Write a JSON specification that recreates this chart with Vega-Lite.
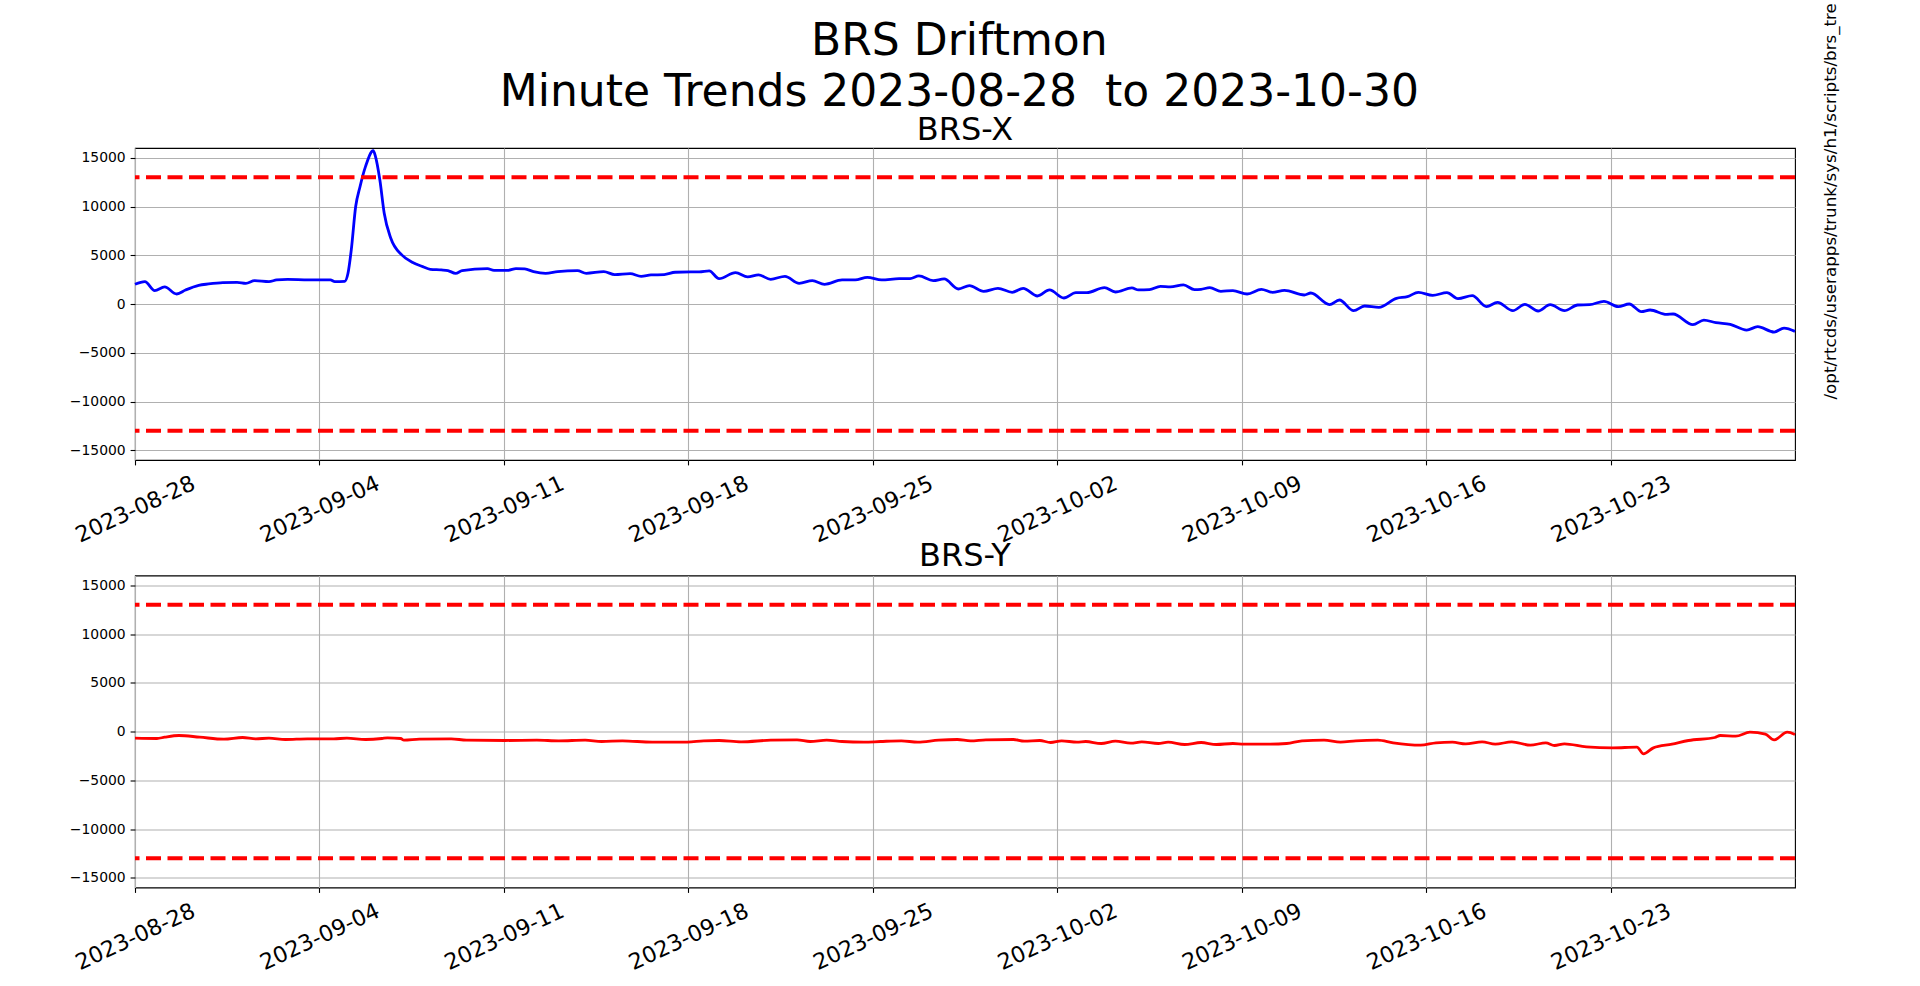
{
  "$schema": "https://vega.github.io/schema/vega-lite/v6.json",
  "background": "white",
  "autosize": {"type": "pad"},
  "padding": {"left": 68, "top": 2, "right": 5, "bottom": 5},
  "config": {
    "font": "DejaVu Sans",
    "view": {"stroke": "black", "strokeWidth": 1.1},
    "axis": {"gridColor": "#b0b0b0", "gridWidth": 1.1, "gridOpacity": 1, "tickColor": "black", "tickWidth": 1.1, "tickSize": 4.9, "labelColor": "black", "labelFont": "DejaVu Sans", "domain": false, "titleFont": "DejaVu Sans", "titleFontWeight": "normal", "titleColor": "black"},
    "title": {"font": "DejaVu Sans", "fontWeight": "normal", "color": "black"}
  },
  "title": {"text": ["BRS Driftmon", "Minute Trends 2023-08-28\u00a0 to 2023-10-30"], "fontSize": 44, "lineHeight": 51, "anchor": "middle", "baseline": "top", "offset": -113, "dx": 5},
  "datasets": {
    "brsx": [
      {"t":"2023-08-28T00:00","v":2020},{"t":"2023-08-28T09:00","v":2295},{"t":"2023-08-28T18:00","v":1370},{"t":"2023-08-29T03:00","v":1747},{"t":"2023-08-29T14:00","v":1027},{"t":"2023-08-29T22:00","v":1438},{"t":"2023-08-30T10:00","v":1918},{"t":"2023-08-30T19:00","v":2055},{"t":"2023-08-31T08:00","v":2192},{"t":"2023-08-31T21:00","v":2226},{"t":"2023-09-01T05:00","v":2123},{"t":"2023-09-01T13:00","v":2397},{"t":"2023-09-02T02:00","v":2295},{"t":"2023-09-02T09:00","v":2466},{"t":"2023-09-02T19:00","v":2534},{"t":"2023-09-03T14:00","v":2466},{"t":"2023-09-04T10:00","v":2466},{"t":"2023-09-04T14:00","v":2295},{"t":"2023-09-04T23:00","v":2329},{"t":"2023-09-05T02:00","v":3151},{"t":"2023-09-05T05:00","v":5549},{"t":"2023-09-05T09:00","v":10000},{"t":"2023-09-05T13:00","v":12056},{"t":"2023-09-05T18:00","v":14111},{"t":"2023-09-06T01:00","v":15720},{"t":"2023-09-06T03:00","v":15138},{"t":"2023-09-06T07:00","v":12741},{"t":"2023-09-06T11:00","v":9316},{"t":"2023-09-06T17:00","v":6747},{"t":"2023-09-07T03:00","v":5035},{"t":"2023-09-07T13:00","v":4247},{"t":"2023-09-07T22:00","v":3836},{"t":"2023-09-08T05:00","v":3562},{"t":"2023-09-08T15:00","v":3494},{"t":"2023-09-08T21:00","v":3425},{"t":"2023-09-09T04:00","v":3151},{"t":"2023-09-09T10:00","v":3425},{"t":"2023-09-10T09:00","v":3631},{"t":"2023-09-10T15:00","v":3459},{"t":"2023-09-11T04:00","v":3459},{"t":"2023-09-11T11:00","v":3631},{"t":"2023-09-11T19:00","v":3596},{"t":"2023-09-12T03:00","v":3322},{"t":"2023-09-12T14:00","v":3151},{"t":"2023-09-13T01:00","v":3322},{"t":"2023-09-13T19:00","v":3425},{"t":"2023-09-14T03:00","v":3151},{"t":"2023-09-14T19:00","v":3322},{"t":"2023-09-15T05:00","v":3014},{"t":"2023-09-15T19:00","v":3117},{"t":"2023-09-16T05:00","v":2843},{"t":"2023-09-16T14:00","v":2980},{"t":"2023-09-17T02:00","v":3014},{"t":"2023-09-17T12:00","v":3254},{"t":"2023-09-18T02:00","v":3288},{"t":"2023-09-18T10:00","v":3288},{"t":"2023-09-18T19:00","v":3391},{"t":"2023-09-19T04:00","v":2603},{"t":"2023-09-19T19:00","v":3220},{"t":"2023-09-20T06:00","v":2774},{"t":"2023-09-20T16:00","v":2980},{"t":"2023-09-21T03:00","v":2535},{"t":"2023-09-21T16:00","v":2843},{"t":"2023-09-22T05:00","v":2124},{"t":"2023-09-22T17:00","v":2398},{"t":"2023-09-23T04:00","v":2021},{"t":"2023-09-23T20:00","v":2466},{"t":"2023-09-24T08:00","v":2466},{"t":"2023-09-24T19:00","v":2740},{"t":"2023-09-25T08:00","v":2466},{"t":"2023-09-26T00:00","v":2603},{"t":"2023-09-26T10:00","v":2603},{"t":"2023-09-26T18:00","v":2877},{"t":"2023-09-27T07:00","v":2398},{"t":"2023-09-27T17:00","v":2569},{"t":"2023-09-28T06:00","v":1541},{"t":"2023-09-28T16:00","v":1884},{"t":"2023-09-29T05:00","v":1302},{"t":"2023-09-29T18:00","v":1610},{"t":"2023-09-30T07:00","v":1199},{"t":"2023-09-30T17:00","v":1610},{"t":"2023-10-01T06:00","v":822},{"t":"2023-10-01T17:00","v":1439},{"t":"2023-10-02T06:00","v":617},{"t":"2023-10-02T17:00","v":1165},{"t":"2023-10-03T03:00","v":1165},{"t":"2023-10-03T19:00","v":1678},{"t":"2023-10-04T05:00","v":1233},{"t":"2023-10-04T20:00","v":1644},{"t":"2023-10-05T02:00","v":1439},{"t":"2023-10-05T12:00","v":1473},{"t":"2023-10-05T22:00","v":1815},{"t":"2023-10-06T07:00","v":1747},{"t":"2023-10-06T19:00","v":1952},{"t":"2023-10-07T05:00","v":1473},{"t":"2023-10-07T11:00","v":1507},{"t":"2023-10-07T19:00","v":1678},{"t":"2023-10-08T05:00","v":1302},{"t":"2023-10-08T16:00","v":1370},{"t":"2023-10-09T05:00","v":1028},{"t":"2023-10-09T18:00","v":1507},{"t":"2023-10-10T04:00","v":1199},{"t":"2023-10-10T15:00","v":1404},{"t":"2023-10-11T09:00","v":925},{"t":"2023-10-11T15:00","v":1130},{"t":"2023-10-12T08:00","v":-68},{"t":"2023-10-12T17:00","v":411},{"t":"2023-10-13T06:00","v":-685},{"t":"2023-10-13T16:00","v":-205},{"t":"2023-10-14T05:00","v":-342},{"t":"2023-10-14T21:00","v":582},{"t":"2023-10-15T07:00","v":753},{"t":"2023-10-15T17:00","v":1199},{"t":"2023-10-16T06:00","v":890},{"t":"2023-10-16T19:00","v":1165},{"t":"2023-10-17T05:00","v":548},{"t":"2023-10-17T18:00","v":856},{"t":"2023-10-18T07:00","v":-274},{"t":"2023-10-18T17:00","v":171},{"t":"2023-10-19T07:00","v":-685},{"t":"2023-10-19T18:00","v":-34},{"t":"2023-10-20T06:00","v":-719},{"t":"2023-10-20T17:00","v":-68},{"t":"2023-10-21T06:00","v":-685},{"t":"2023-10-21T18:00","v":-103},{"t":"2023-10-22T05:00","v":-68},{"t":"2023-10-22T18:00","v":274},{"t":"2023-10-23T07:00","v":-274},{"t":"2023-10-23T17:00","v":0},{"t":"2023-10-24T04:00","v":-788},{"t":"2023-10-24T12:00","v":-616},{"t":"2023-10-25T03:00","v":-1062},{"t":"2023-10-25T09:00","v":-1028},{"t":"2023-10-26T03:00","v":-2124},{"t":"2023-10-26T13:00","v":-1644},{"t":"2023-10-27T00:00","v":-1918},{"t":"2023-10-27T13:00","v":-2089},{"t":"2023-10-28T04:00","v":-2672},{"t":"2023-10-28T14:00","v":-2329},{"t":"2023-10-29T05:00","v":-2877},{"t":"2023-10-29T14:00","v":-2466},{"t":"2023-10-30T00:00","v":-2809}
    ],
    "brsy": [
      {"t":"2023-08-28T00:00","v":-684},{"t":"2023-08-28T20:00","v":-718},{"t":"2023-08-29T03:00","v":-581},{"t":"2023-08-29T16:00","v":-410},{"t":"2023-08-30T11:00","v":-581},{"t":"2023-08-31T09:00","v":-787},{"t":"2023-09-01T02:00","v":-616},{"t":"2023-09-01T14:00","v":-752},{"t":"2023-09-02T02:00","v":-684},{"t":"2023-09-02T17:00","v":-821},{"t":"2023-09-03T13:00","v":-752},{"t":"2023-09-04T13:00","v":-752},{"t":"2023-09-05T01:00","v":-684},{"t":"2023-09-05T18:00","v":-821},{"t":"2023-09-06T09:00","v":-718},{"t":"2023-09-06T14:00","v":-650},{"t":"2023-09-07T02:00","v":-718},{"t":"2023-09-07T05:00","v":-889},{"t":"2023-09-07T19:00","v":-787},{"t":"2023-09-09T00:00","v":-752},{"t":"2023-09-09T14:00","v":-889},{"t":"2023-09-11T01:00","v":-923},{"t":"2023-09-12T06:00","v":-889},{"t":"2023-09-13T02:00","v":-958},{"t":"2023-09-14T02:00","v":-889},{"t":"2023-09-14T17:00","v":-1026},{"t":"2023-09-15T12:00","v":-958},{"t":"2023-09-16T15:00","v":-1094},{"t":"2023-09-17T23:00","v":-1094},{"t":"2023-09-18T14:00","v":-958},{"t":"2023-09-19T04:00","v":-923},{"t":"2023-09-20T00:00","v":-1060},{"t":"2023-09-21T03:00","v":-889},{"t":"2023-09-22T03:00","v":-855},{"t":"2023-09-22T15:00","v":-1026},{"t":"2023-09-23T06:00","v":-889},{"t":"2023-09-23T20:00","v":-1026},{"t":"2023-09-24T16:00","v":-1094},{"t":"2023-09-25T07:00","v":-1026},{"t":"2023-09-26T02:00","v":-958},{"t":"2023-09-26T17:00","v":-1094},{"t":"2023-09-27T12:00","v":-889},{"t":"2023-09-28T05:00","v":-821},{"t":"2023-09-28T17:00","v":-958},{"t":"2023-09-29T07:00","v":-855},{"t":"2023-09-30T08:00","v":-821},{"t":"2023-09-30T18:00","v":-992},{"t":"2023-10-01T08:00","v":-923},{"t":"2023-10-01T18:00","v":-1128},{"t":"2023-10-02T04:00","v":-958},{"t":"2023-10-02T18:00","v":-1094},{"t":"2023-10-03T02:00","v":-1026},{"t":"2023-10-03T16:00","v":-1231},{"t":"2023-10-04T05:00","v":-992},{"t":"2023-10-04T19:00","v":-1197},{"t":"2023-10-05T05:00","v":-1060},{"t":"2023-10-05T20:00","v":-1231},{"t":"2023-10-06T05:00","v":-1094},{"t":"2023-10-06T20:00","v":-1334},{"t":"2023-10-07T11:00","v":-1128},{"t":"2023-10-08T01:00","v":-1334},{"t":"2023-10-08T16:00","v":-1231},{"t":"2023-10-09T02:00","v":-1300},{"t":"2023-10-09T21:00","v":-1300},{"t":"2023-10-10T17:00","v":-1231},{"t":"2023-10-11T07:00","v":-958},{"t":"2023-10-12T03:00","v":-889},{"t":"2023-10-12T18:00","v":-1094},{"t":"2023-10-13T08:00","v":-958},{"t":"2023-10-14T04:00","v":-889},{"t":"2023-10-14T18:00","v":-1163},{"t":"2023-10-15T19:00","v":-1402},{"t":"2023-10-16T09:00","v":-1163},{"t":"2023-10-17T00:00","v":-1094},{"t":"2023-10-17T12:00","v":-1265},{"t":"2023-10-18T03:00","v":-1060},{"t":"2023-10-18T15:00","v":-1300},{"t":"2023-10-19T06:00","v":-1060},{"t":"2023-10-19T23:00","v":-1402},{"t":"2023-10-20T13:00","v":-1163},{"t":"2023-10-20T21:00","v":-1436},{"t":"2023-10-21T06:00","v":-1265},{"t":"2023-10-22T02:00","v":-1573},{"t":"2023-10-23T02:00","v":-1676},{"t":"2023-10-24T00:00","v":-1607},{"t":"2023-10-24T06:00","v":-2291},{"t":"2023-10-24T15:00","v":-1676},{"t":"2023-10-25T08:00","v":-1300},{"t":"2023-10-25T23:00","v":-923},{"t":"2023-10-26T23:00","v":-616},{"t":"2023-10-27T04:00","v":-410},{"t":"2023-10-27T18:00","v":-479},{"t":"2023-10-28T07:00","v":-68},{"t":"2023-10-28T21:00","v":-274},{"t":"2023-10-29T05:00","v":-855},{"t":"2023-10-29T17:00","v":-68},{"t":"2023-10-30T00:00","v":-308}
    ],
    "limits": [{"limit": 13000}, {"limit": -13000}]
  },
  "vconcat": [
    {
      "title": {"text": "BRS-X", "fontSize": 32, "baseline": "alphabetic", "offset": -169.5, "anchor": "middle"},
      "width": 1660,
      "height": 312,
      "layer": [
        {
          "data": {"name": "brsx"},
          "mark": {"type": "line", "color": "#0000ff", "strokeWidth": 2.8, "interpolate": "monotone"},
          "encoding": {
            "x": {"field": "t", "type": "temporal", "scale": {"domain": [{"year": 2023, "month": 8, "date": 28}, {"year": 2023, "month": 10, "date": 30}]}, "axis": {"title": null, "format": "%Y-%m-%d", "values": [{"year": 2023, "month": 8, "date": 28}, {"year": 2023, "month": 9, "date": 4}, {"year": 2023, "month": 9, "date": 11}, {"year": 2023, "month": 9, "date": 18}, {"year": 2023, "month": 9, "date": 25}, {"year": 2023, "month": 10, "date": 2}, {"year": 2023, "month": 10, "date": 9}, {"year": 2023, "month": 10, "date": 16}, {"year": 2023, "month": 10, "date": 23}], "labelAngle": -25, "labelAlign": "center", "labelBaseline": "middle", "labelPadding": 44, "labelFontSize": 22.2, "labelOverlap": false, "labelFlush": false, "grid": true}},
            "y": {"field": "v", "type": "quantitative", "scale": {"domain": [-16000, 16000], "nice": false}, "axis": {"title": null, "values": [-15000, -10000, -5000, 0, 5000, 10000, 15000], "format": "d", "labelFontSize": 13.9, "labelPadding": 4.9, "grid": true}}
          }
        },
        {
          "data": {"name": "limits"},
          "mark": {"type": "rule", "color": "#ff0000", "strokeWidth": 4, "strokeDash": [15, 6.5]},
          "encoding": {
            "y": {"field": "limit", "type": "quantitative", "scale": {"domain": [-16000, 16000], "nice": false}, "axis": {"orient": "right", "labels": false, "ticks": false, "grid": false, "domain": false, "title": "/opt/rtcds/userapps/trunk/sys/h1/scripts/brs_tre", "titleFontSize": 16.7, "titleAngle": 270, "titleAlign": "left", "titleBaseline": "middle", "titleX": 35.6, "titleY": 251}}
          }
        }
      ],
      "resolve": {"axis": {"y": "independent"}}
    },
    {
      "title": {"text": "BRS-Y", "fontSize": 32, "baseline": "alphabetic", "offset": -22.5, "anchor": "middle"},
      "width": 1660,
      "height": 312,
      "layer": [
        {
          "data": {"name": "brsy"},
          "mark": {"type": "line", "color": "#ff0000", "strokeWidth": 2.8, "interpolate": "monotone"},
          "encoding": {
            "x": {"field": "t", "type": "temporal", "scale": {"domain": [{"year": 2023, "month": 8, "date": 28}, {"year": 2023, "month": 10, "date": 30}]}, "axis": {"title": null, "format": "%Y-%m-%d", "values": [{"year": 2023, "month": 8, "date": 28}, {"year": 2023, "month": 9, "date": 4}, {"year": 2023, "month": 9, "date": 11}, {"year": 2023, "month": 9, "date": 18}, {"year": 2023, "month": 9, "date": 25}, {"year": 2023, "month": 10, "date": 2}, {"year": 2023, "month": 10, "date": 9}, {"year": 2023, "month": 10, "date": 16}, {"year": 2023, "month": 10, "date": 23}], "labelAngle": -25, "labelAlign": "center", "labelBaseline": "middle", "labelPadding": 44, "labelFontSize": 22.2, "labelOverlap": false, "labelFlush": false, "grid": true}},
            "y": {"field": "v", "type": "quantitative", "scale": {"domain": [-16000, 16000], "nice": false}, "axis": {"title": null, "values": [-15000, -10000, -5000, 0, 5000, 10000, 15000], "format": "d", "labelFontSize": 13.9, "labelPadding": 4.9, "grid": true}}
          }
        },
        {
          "data": {"name": "limits"},
          "mark": {"type": "rule", "color": "#ff0000", "strokeWidth": 4, "strokeDash": [15, 6.5]},
          "encoding": {
            "y": {"field": "limit", "type": "quantitative", "scale": {"domain": [-16000, 16000], "nice": false}}
          }
        }
      ]
    }
  ],
  "bounds": "flush",
  "spacing": 115.5
}
